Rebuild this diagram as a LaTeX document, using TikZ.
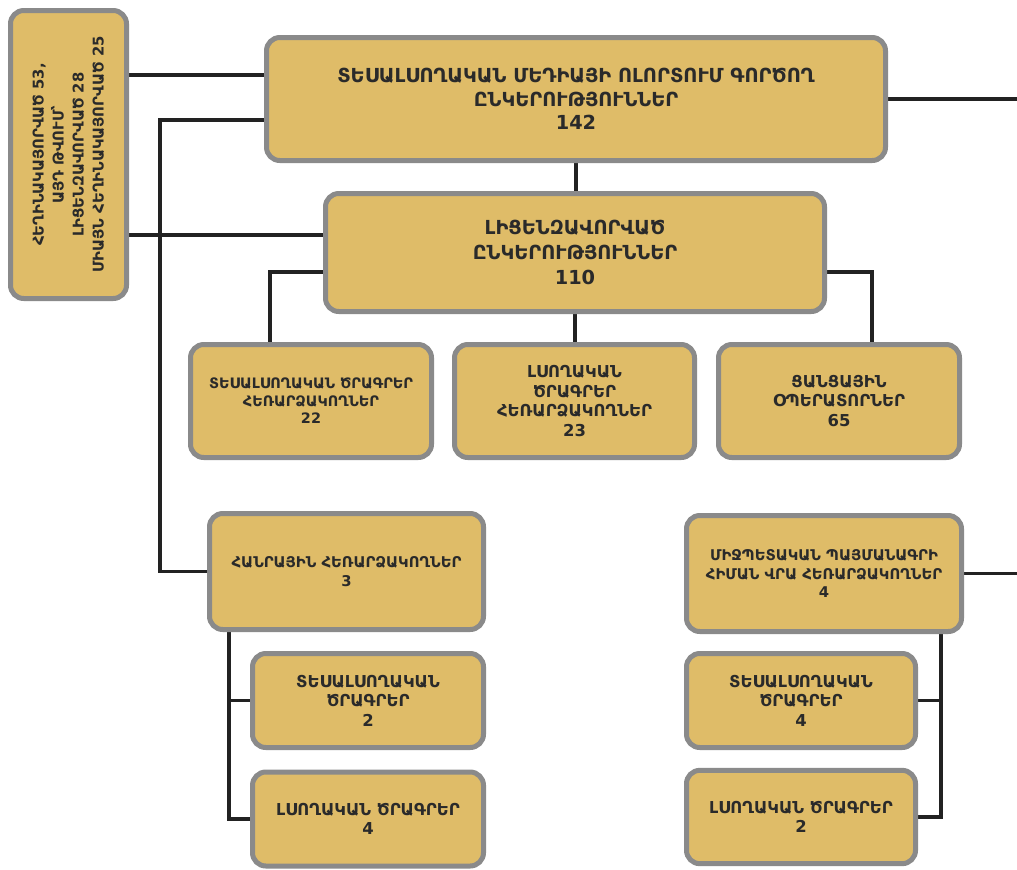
\documentclass[tikz,border=0pt]{standalone}
\usepackage{fontspec}
\setmainfont{DejaVu Sans}
\usetikzlibrary{backgrounds}
\definecolor{boxfill}{RGB}{223,188,104}
\definecolor{boxline}{RGB}{138,138,138}
\definecolor{txt}{RGB}{42,42,42}
\definecolor{wirec}{RGB}{34,34,34}
\begin{document}
\begin{tikzpicture}[x=0.75pt,y=-0.75pt,
  box/.style={draw=boxline, line width=3.75pt, fill=boxfill, rounded corners=10pt,
    text=txt, align=center, inner sep=0pt},
  topfont/.style={font=\bfseries\fontsize{14.5}{17.5}\selectfont},
  licfont/.style={font=\bfseries\fontsize{14.5}{18.8}\selectfont},
  mid/.style={font=\bfseries\fontsize{12.3}{14.6}\selectfont},
  small/.style={font=\bfseries\fontsize{11.1}{13.8}\selectfont},
  tiny/.style={font=\bfseries\fontsize{10.8}{13.1}\selectfont},
  side/.style={font=\bfseries\fontsize{11.1}{15}\selectfont},
  wire/.style={draw=wirec, line width=2.4pt}]
\useasboundingbox (0,0) rectangle (1017,869);

\coordinate (h75) at (0,75);
\coordinate (h120) at (0,120);
\coordinate (h235) at (0,235);
\coordinate (h272) at (0,272);
\coordinate (v160) at (160,0);
\coordinate (v229) at (229,0);
\coordinate (v270) at (270,0);
\coordinate (v872) at (872,0);
\coordinate (v941) at (941,0);
\coordinate (edge) at (1017,0);
\coordinate (Lc) at (68.5,154.5);

\node[box, topfont, minimum width=464.25pt, minimum height=92.25pt] (T) at (576,99)
  {ՏԵՍԱԼՍՈՂԱԿԱՆ ՄԵԴԻԱՅԻ ՈԼՈՐՏՈՒՄ ԳՈՐԾՈՂ\\ԸՆԿԵՐՈՒԹՅՈՒՆՆԵՐ\\142};
\node[box, side, rotate=90, minimum width=216pt, minimum height=87pt] (L) at (Lc)
  {ՀԵՂԻՆԱԿԱՅՈՐՎԱԾ 53,\\ԱՅԴ ԹՎՈՒՄ՝\\ԼԻՑԵՆԶԱՎՈՐՎԱԾ 28\\ՄԻԱՅՆ ՀԵՂԻՆԱԿԱՅՈՐՎԱԾ 25};
\node[box, licfont, minimum width=374.25pt, minimum height=88.5pt] (Li) at (575,252.5)
  {ԼԻՑԵՆԶԱՎՈՐՎԱԾ\\ԸՆԿԵՐՈՒԹՅՈՒՆՆԵՐ\\110};
\node[box, tiny, minimum width=180.75pt, minimum height=84.75pt] (A) at (311,401)
  {ՏԵՍԱԼՍՈՂԱԿԱՆ ԾՐԱԳՐԵՐ\\ՀԵՌԱՐՁԱԿՈՂՆԵՐ\\22};
\node[box, mid, minimum width=180pt, minimum height=84.75pt] (B) at (574.5,401)
  {ԼՍՈՂԱԿԱՆ\\ԾՐԱԳՐԵՐ\\ՀԵՌԱՐՁԱԿՈՂՆԵՐ\\23};
\node[box, mid, minimum width=180.75pt, minimum height=84.75pt] (C) at (839,401)
  {ՑԱՆՑԱՅԻՆ\\ՕՊԵՐԱՏՈՐՆԵՐ\\65};
\node[box, small, minimum width=205.5pt, minimum height=87pt] (D) at (346.5,571.5)
  {ՀԱՆՐԱՅԻՆ ՀԵՌԱՐՁԱԿՈՂՆԵՐ\\3};
\node[box, small, minimum width=206.25pt, minimum height=87pt] (E) at (824,573.5)
  {ՄԻՋՊԵՏԱԿԱՆ ՊԱՅՄԱՆԱԳՐԻ\\ՀԻՄԱՆ ՎՐԱ ՀԵՌԱՐՁԱԿՈՂՆԵՐ\\4};
\node[box, mid, minimum width=173.25pt, minimum height=70.5pt] (F) at (368,700.5)
  {ՏԵՍԱԼՍՈՂԱԿԱՆ\\ԾՐԱԳՐԵՐ\\2};
\node[box, mid, minimum width=173.25pt, minimum height=70.5pt] (G) at (368,819)
  {ԼՍՈՂԱԿԱՆ ԾՐԱԳՐԵՐ\\4};
\node[box, mid, minimum width=171.75pt, minimum height=70.5pt] (H) at (801,700.5)
  {ՏԵՍԱԼՍՈՂԱԿԱՆ\\ԾՐԱԳՐԵՐ\\4};
\node[box, mid, minimum width=171.75pt, minimum height=70pt] (I) at (801,817)
  {ԼՍՈՂԱԿԱՆ ԾՐԱԳՐԵՐ\\2};

\begin{scope}[on background layer]
\draw[wire] (L.south |- h75) -- (T.west |- h75);
\draw[wire] (L.south |- h235) -- (Li.west |- h235);
\draw[wire] (T.east) -- (T.east -| edge);
\draw[wire] (T.south) -- (T.south |- Li.north);
\draw[wire] (T.west |- h120) -| (v160 |- D.west) -- (D.west);
\draw[wire] (Li.west |- h272) -| (v270 |- A.north);
\draw[wire] (Li.south) -- (Li.south |- B.north);
\draw[wire] (Li.east |- h272) -| (v872 |- C.north);
\draw[wire] (v229 |- D.south) |- (F.west);
\draw[wire] (v229 |- D.south) |- (G.west);
\draw[wire] (v941 |- E.south) |- (H.east);
\draw[wire] (v941 |- E.south) |- (I.east);
\draw[wire] (E.east) -- (E.east -| edge);
\end{scope}
\end{tikzpicture}
\end{document}
